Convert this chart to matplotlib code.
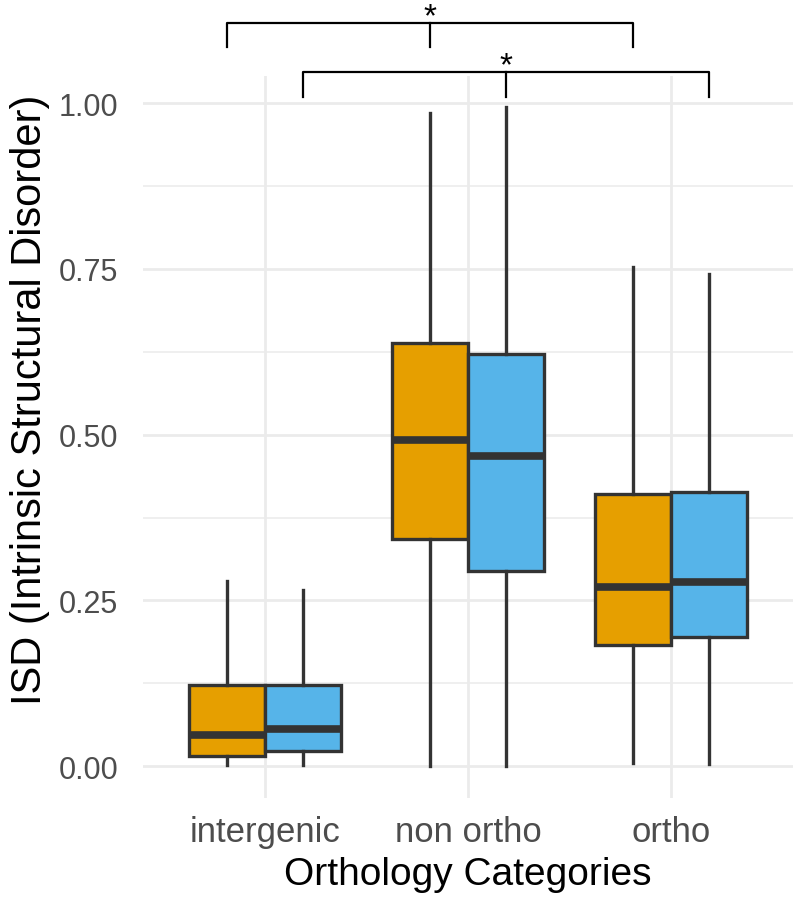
import matplotlib
matplotlib.use("Agg")
import matplotlib.pyplot as plt

plt.rcParams['font.family'] = ['Liberation Sans', 'DejaVu Sans']

categories = ["intergenic", "non ortho", "ortho"]

# orange group (box stats)
orange_whislo = [0.002, 0.000, 0.005]
orange_q1 = [0.015, 0.342, 0.183]
orange_med = [0.047, 0.492, 0.271]
orange_q3 = [0.122, 0.638, 0.410]
orange_whishi = [0.279, 0.985, 0.753]

# blue group
blue_whislo = [0.002, 0.000, 0.003]
blue_q1 = [0.023, 0.294, 0.195]
blue_med = [0.056, 0.468, 0.278]
blue_q3 = [0.122, 0.621, 0.413]
blue_whishi = [0.265, 0.994, 0.743]

# significance brackets (x in category units, y in data units)
bracket_left = [0.8125, 1.1875]
bracket_mid = [1.8125, 2.1875]
bracket_right = [2.8125, 3.1875]
bracket_top = [1.121, 1.047]
bracket_bottom = [1.084, 1.009]
bracket_labels = ["*", "*"]

fig = plt.figure(figsize=(8, 9.04), dpi=100)
ax = fig.add_axes([143 / 800, 1 - 799 / 904, 650 / 800, 722 / 904])

def make_stats(lo, q1, med, q3, hi):
    stats = []
    for i in range(len(lo)):
        stats.append(dict(whislo=lo[i], q1=q1[i], med=med[i], q3=q3[i],
                          whishi=hi[i], fliers=[]))
    return stats

x = list(range(1, len(categories) + 1))
dodge = 0.1875
width = 0.375
edge = '#333333'

for stats, off, col in [
        (make_stats(orange_whislo, orange_q1, orange_med, orange_q3, orange_whishi), -dodge, '#E69F00'),
        (make_stats(blue_whislo, blue_q1, blue_med, blue_q3, blue_whishi), dodge, '#56B4E9')]:
    ax.bxp(stats, positions=[p + off for p in x], widths=width,
           patch_artist=True, showcaps=False, showfliers=False,
           boxprops=dict(facecolor=col, edgecolor=edge, linewidth=2.4),
           whiskerprops=dict(color=edge, linewidth=2.4),
           medianprops=dict(color=edge, linewidth=5.5, solid_capstyle='butt'),
           zorder=3)

# brackets
for i in range(len(bracket_left)):
    xs = [bracket_left[i], bracket_left[i], bracket_right[i], bracket_right[i]]
    ys = [bracket_bottom[i], bracket_top[i], bracket_top[i], bracket_bottom[i]]
    ax.plot(xs, ys, color='black', linewidth=1.6, clip_on=False, zorder=4)
    ax.plot([bracket_mid[i], bracket_mid[i]], [bracket_bottom[i], bracket_top[i]],
            color='black', linewidth=1.6, clip_on=False, zorder=4)
    ax.text(bracket_mid[i], bracket_top[i] - 0.004, bracket_labels[i],
            ha='center', va='baseline', fontsize=24, clip_on=False)

ax.set_xlim(0.4, 3.6)
ax.set_ylim(-0.048, 1.041)
ax.set_xticks(x)
ax.set_xticklabels(categories)
ax.set_yticks([0, 0.25, 0.5, 0.75, 1.0])
ax.set_yticklabels(["0.00", "0.25", "0.50", "0.75", "1.00"])
ax.set_yticks([0.125, 0.375, 0.625, 0.875], minor=True)

for s in ax.spines.values():
    s.set_visible(False)
ax.grid(True, which='major', color='#EBEBEB', linewidth=2.0, zorder=0)
ax.grid(True, which='minor', axis='y', color='#EBEBEB', linewidth=1.1, zorder=0)
ax.set_axisbelow(True)
ax.tick_params(axis='both', which='both', length=0)
ax.tick_params(axis='y', labelsize=22, labelcolor='#4D4D4D', pad=18)
ax.tick_params(axis='x', labelsize=25, labelcolor='#4D4D4D', pad=12)

ax.set_xlabel("Orthology Categories", fontsize=28, labelpad=6)
ax.set_ylabel("ISD (Intrinsic Structural Disorder)", fontsize=30)
ax.yaxis.set_label_coords(-0.143, 0.553)

fig.savefig("out.png", dpi=100, facecolor='white')
